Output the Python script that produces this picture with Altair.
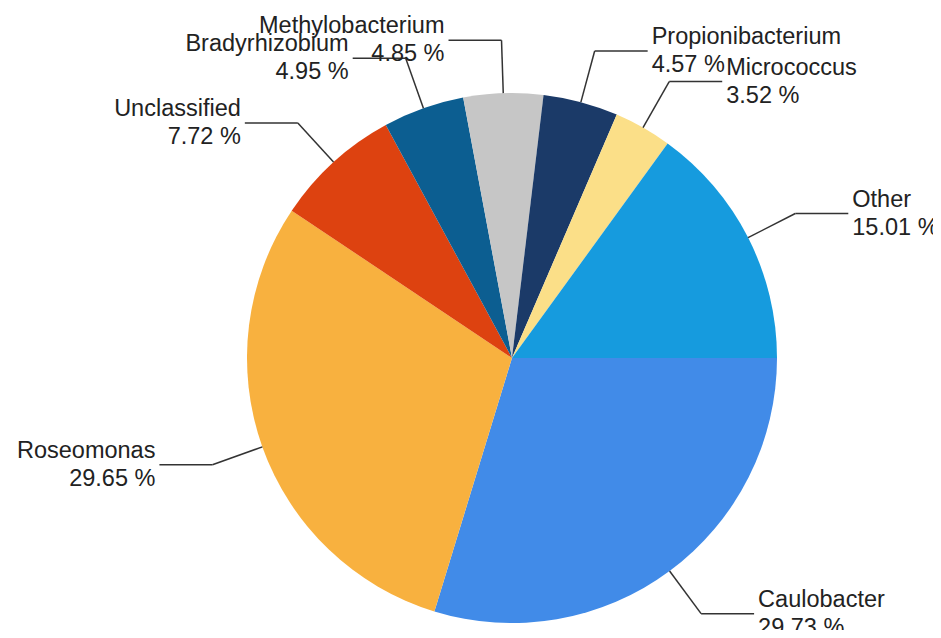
import math
import altair as alt
import pandas as pd

names = ["Caulobacter", "Roseomonas", "Unclassified", "Bradyrhizobium",
         "Methylobacterium", "Propionibacterium", "Micrococcus", "Other"]
values = [29.73, 29.65, 7.72, 4.95, 4.85, 4.57, 3.52, 15.01]
colors = ["#418BE8", "#F8B13F", "#DD4210", "#0C5E91",
          "#C6C6C6", "#1B3A68", "#FBDF88", "#169BDE"]

df = pd.DataFrame({"name": names, "value": values, "order": list(range(len(names)))})

W, H = 925, 622
CX, CY = 504, 350
R = 265
R2 = 318
L = 53
GAP = 4
FONT = "Liberation Sans"
FS = 23.5

start = math.pi / 2

xs = alt.Scale(domain=[0, W], range=[0, W], nice=False, zero=False)
ys = alt.Scale(domain=[0, H], range=[0, H], nice=False, zero=False)

base = alt.Chart(df).transform_window(
    cum="sum(value)", sort=[alt.SortField("order")], frame=[None, 0]
).transform_joinaggregate(
    total="sum(value)"
).transform_calculate(
    ang=f"{start} + 2*PI*(datum.cum - datum.value/2)/datum.total",
).transform_calculate(
    side="sin(datum.ang) >= 0 ? 1 : -1",
    ex=f"{CX} + {R}*sin(datum.ang)",
    ey=f"{CY} - {R}*cos(datum.ang)",
    kx=f"{CX} + {R2}*sin(datum.ang)",
    ky=f"{CY} - {R2}*cos(datum.ang)",
).transform_calculate(
    hx=f"datum.kx + datum.side*{L}",
    tx=f"datum.kx + datum.side*{L + GAP}",
    pct="format(datum.value, '.2f') + ' %'",
)

pie = alt.Chart(df).mark_arc(radius=R, stroke=None).encode(
    theta=alt.Theta("value:Q", stack=True,
                    scale=alt.Scale(range=[start, start + 2 * math.pi])),
    order=alt.Order("order:Q"),
    color=alt.Color("name:N", scale=alt.Scale(domain=names, range=colors), legend=None),
    x=alt.value(CX),
    y=alt.value(CY),
)

seg1 = base.mark_rule(color="#333333", strokeWidth=1.5).encode(
    x=alt.X("ex:Q", scale=xs, axis=None),
    y=alt.Y("ey:Q", scale=ys, axis=None),
    x2="kx:Q",
    y2="ky:Q",
)
seg2 = base.mark_rule(color="#333333", strokeWidth=1.5).encode(
    x=alt.X("kx:Q", scale=xs, axis=None),
    y=alt.Y("ky:Q", scale=ys, axis=None),
    x2="hx:Q",
    y2="ky:Q",
)

def labels(side, align):
    b = base.transform_filter(f"datum.side == {side}")
    t1 = b.mark_text(align=align, baseline="middle", font=FONT, fontSize=FS,
                     color="#222222", dy=-14).encode(
        x=alt.X("tx:Q", scale=xs, axis=None),
        y=alt.Y("ky:Q", scale=ys, axis=None),
        text="name:N",
    )
    t2 = b.mark_text(align=align, baseline="middle", font=FONT, fontSize=FS,
                     color="#222222", dy=14).encode(
        x=alt.X("tx:Q", scale=xs, axis=None),
        y=alt.Y("ky:Q", scale=ys, axis=None),
        text="pct:N",
    )
    return [t1, t2]

chart = alt.layer(
    pie, seg1, seg2, *labels(1, "left"), *labels(-1, "right")
).properties(
    width=W, height=H, padding=0, autosize=alt.AutoSizeParams(type="none"),
    background="white",
).configure_view(stroke=None)

chart.save("out.html", embed_options={"renderer": "svg", "actions": False})
